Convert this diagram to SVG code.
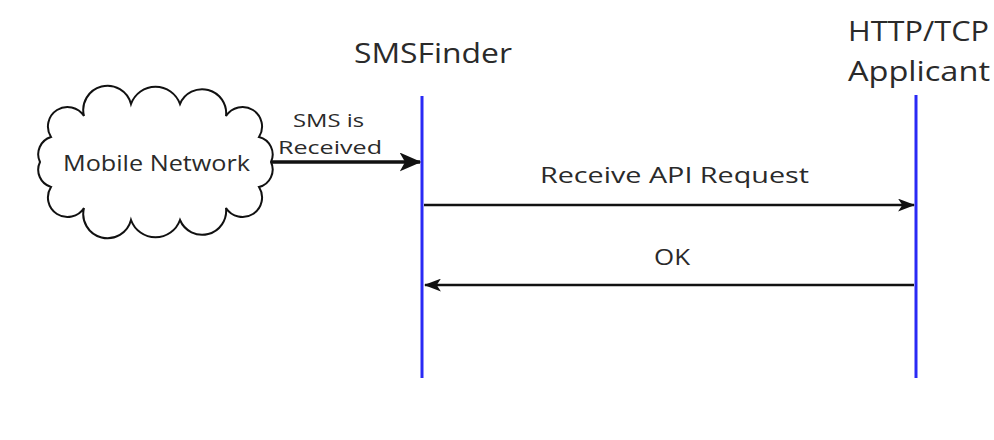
<svg xmlns="http://www.w3.org/2000/svg" width="994" height="440" viewBox="0 0 994 440">
<style>
text{font-family:"Open Sans","Liberation Sans",sans-serif;fill:#2a2a2a}
.life{stroke:#2a2af5;stroke-width:3;fill:none}
.msg{stroke:#111;stroke-width:2.5;fill:none}
</style>
<defs>
<marker id="ah" viewBox="0 0 16 12" refX="15" refY="6" markerWidth="17" markerHeight="13" markerUnits="userSpaceOnUse" orient="auto">
<path d="M0,0 L16,6 L0,12 L4,6 Z" fill="#111"/>
</marker>
<marker id="ahb" viewBox="0 0 16 14" refX="15" refY="7" markerWidth="22" markerHeight="19" markerUnits="userSpaceOnUse" orient="auto">
<path d="M0,0 L16,7 L0,14 L4,7 Z" fill="#111"/>
</marker>
</defs>
<rect width="994" height="440" fill="#fff"/>
<g id="cloud">
<path d="M271,162 A18,18 0 0 1 259,187 A18,18 0 0 1 226,208 A24,24 0 0 1 180,220 A26,26 0 0 1 131,220 A24,24 0 0 1 84,208 A18,18 0 0 1 51,187 A18,18 0 0 1 40,162 A18,18 0 0 1 51,137 A18,18 0 0 1 84,116 A24,24 0 0 1 131,104 A26,26 0 0 1 180,104 A24,24 0 0 1 226,116 A18,18 0 0 1 259,137 A18,18 0 0 1 271,162 Z" fill="#fff" stroke="#111" stroke-width="2"/>
<text x="63" y="171" font-size="21" textLength="187" lengthAdjust="spacingAndGlyphs">Mobile Network</text>
</g>
<g id="smsfinder">
<text x="354" y="63" font-size="28" textLength="158" lengthAdjust="spacingAndGlyphs">SMSFinder</text>
<line class="life" x1="422" y1="96" x2="422" y2="378"/>
</g>
<g id="applicant">
<text x="848" y="41" font-size="28" textLength="141" lengthAdjust="spacingAndGlyphs">HTTP/TCP</text>
<text x="848" y="81" font-size="28" textLength="142" lengthAdjust="spacingAndGlyphs">Applicant</text>
<line class="life" x1="916" y1="95" x2="916" y2="378"/>
</g>
<g id="connectors">
<line x1="271" y1="162" x2="420" y2="162" stroke="#111" stroke-width="3.5" marker-end="url(#ahb)"/>
<text x="293" y="127" font-size="19" textLength="71" lengthAdjust="spacingAndGlyphs">SMS is</text>
<text x="278" y="154" font-size="19" textLength="104" lengthAdjust="spacingAndGlyphs">Received</text>
<line class="msg" x1="424" y1="205" x2="914" y2="205" marker-end="url(#ah)"/>
<text x="540" y="183" font-size="22" textLength="269" lengthAdjust="spacingAndGlyphs">Receive API Request</text>
<line class="msg" x1="914" y1="285" x2="425" y2="285" marker-end="url(#ah)"/>
<text x="654" y="265" font-size="22" textLength="36" lengthAdjust="spacingAndGlyphs">OK</text>
</g>
</svg>
